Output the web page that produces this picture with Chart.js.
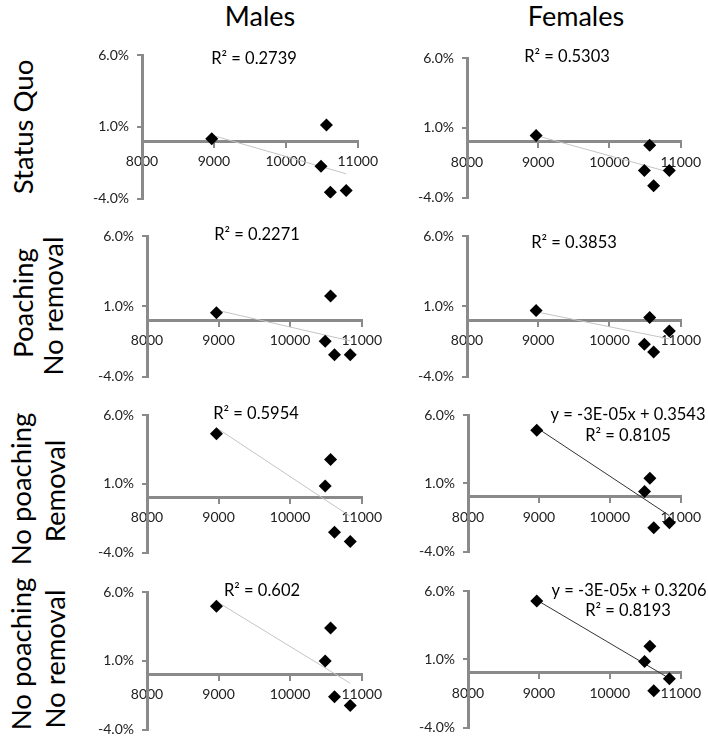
<!DOCTYPE html>
<html>
<head>
<meta charset="utf-8">
<script src="https://cdn.jsdelivr.net/npm/chart.js@4.4.1/dist/chart.umd.min.js"></script>
<style>
    body { margin: 0; background: #fff; width: 708px; height: 741px; position: relative; overflow: hidden; font-family: Lato, sans-serif; }
    canvas { position: absolute; }
    .hdr { position: absolute; font-size: 27px; color: #000; transform: translate(-50%, -50%); white-space: nowrap; }
    .rowlab { position: absolute; font-size: 27.5px; color: #000; white-space: nowrap; transform: translate(-50%, -50%) rotate(-90deg); }
</style>
</head>
<body>
<script>
// population size (x) shared by every panel
const populationSize = [8970, 10490, 10565, 10620, 10840];
const xTicks = [8000, 9000, 10000, 11000];
const yTicks = [-4, 1, 6];

// growth rate in %, one array per scenario / sex
const malesStatusQuo = [0.16, -1.75, 1.12, -3.55, -3.44];
const femalesStatusQuo = [0.44, -2.06, -0.25, -3.15, -2.06];
const malesPoachingNoRemoval = [0.54, -1.49, 1.74, -2.45, -2.45];
const femalesPoachingNoRemoval = [0.7, -1.7, 0.2, -2.25, -0.75];
const malesNoPoachingRemoval = [4.64, 0.84, 2.76, -2.52, -3.2];
const femalesNoPoachingRemoval = [4.89, 0.40, 1.37, -2.25, -1.89];
const malesNoPoachingNoRemoval = [4.96, 0.98, 3.39, -1.61, -2.24];
const femalesNoPoachingNoRemoval = [5.27, 0.83, 1.95, -1.30, -0.42];

const sexes = ["Males", "Females"];
const scenarios = [["Status Quo"], ["Poaching", "No removal"], ["No poaching", "Removal"], ["No poaching", "No removal"]];

const fitLabels = [
    ["R² = 0.2739"], ["R² = 0.5303"],
    ["R² = 0.2271"], ["R² = 0.3853"],
    ["R² = 0.5954"], ["y = -3E-05x + 0.3543", "R² = 0.8105"],
    ["R² = 0.602"], ["y = -3E-05x + 0.3206", "R² = 0.8193"]
];

const series = [
    malesStatusQuo, femalesStatusQuo,
    malesPoachingNoRemoval, femalesPoachingNoRemoval,
    malesNoPoachingRemoval, femalesNoPoachingRemoval,
    malesNoPoachingNoRemoval, femalesNoPoachingNoRemoval
];

// layout: plot area [left, top, right, bottom] in page pixels
const boxes = [
    [142, 55, 361, 203], [467, 58, 683, 202],
    [147, 236, 365, 381], [467, 236, 683, 381],
    [147, 415, 365, 557], [468, 415, 683, 556],
    [147, 592, 365, 734], [468, 591, 682, 732]
];
// label centres relative to plot area top-left
const notePos = [
    [[112, 4]], [[100, -1]],
    [[110, -1]], [[107, 7]],
    [[109, -1]], [[160, 0], [160, 21]],
    [[115, -1]], [[161, 0], [160, 20]]
];
const headerPos = [[260, 15], [576, 15]];
const rowLabelPos = [[[22, 127]], [[22, 303], [52, 306]], [[20, 489], [54, 491]], [[20, 654], [54, 659]]];

const axisGray = "#8a8a8a";

sexes.forEach((s, i) => {
    const d = document.createElement("div");
    d.className = "hdr";
    d.textContent = s;
    d.style.left = headerPos[i][0] + "px";
    d.style.top = headerPos[i][1] + "px";
    document.body.appendChild(d);
});

scenarios.forEach((lines, r) => {
    lines.forEach((t, j) => {
        const d = document.createElement("div");
        d.className = "rowlab";
        d.textContent = t;
        d.style.left = rowLabelPos[r][j][0] + "px";
        d.style.top = rowLabelPos[r][j][1] + "px";
        document.body.appendChild(d);
    });
});

const notePlugin = {
    id: "notes",
    afterDatasetsDraw(chart, args, opts) {
        const ctx = chart.ctx;
        const area = chart.chartArea;
        ctx.save();
        ctx.font = "16.5px Lato";
        ctx.fillStyle = "#000";
        ctx.textAlign = "center";
        ctx.textBaseline = "middle";
        opts.lines.forEach((t, i) => {
            ctx.fillText(t, area.left + opts.pos[i][0], area.top + opts.pos[i][1]);
        });
        ctx.restore();
    }
};

function fitLine(xs, ys) {
    const n = xs.length;
    const mx = xs.reduce((a, b) => a + b) / n;
    const my = ys.reduce((a, b) => a + b) / n;
    let sxy = 0, sxx = 0;
    xs.forEach((x, i) => {
        sxy += (x - mx) * (ys[i] - my);
        sxx += (x - mx) * (x - mx);
    });
    const b = sxy / sxx;
    const a = my - b * mx;
    const x0 = Math.min(...xs), x1 = Math.max(...xs);
    return [{ x: x0, y: a + b * x0 }, { x: x1, y: a + b * x1 }];
}

series.forEach((ys, k) => {
    const [l, t, r, b] = boxes[k];
    const yAxisW = 80, padT = 20, padB = 12;
    const padR = 708 - r < 30 ? 708 - r : 24;
    const canvas = document.createElement("canvas");
    const cl = l - yAxisW, ct = t - padT;
    canvas.width = r + padR - cl;
    canvas.height = b + padB - ct;
    canvas.style.left = cl + "px";
    canvas.style.top = ct + "px";
    document.body.appendChild(canvas);

    const pts = populationSize.map((x, i) => ({ x: x, y: ys[i] }));
    const dark = fitLabels[k].length > 1;

    new Chart(canvas, {
        type: "scatter",
        data: {
            datasets: [
                {
                    data: pts,
                    pointStyle: "rectRot",
                    pointRadius: 6.5,
                    backgroundColor: "#000",
                    borderColor: "#000",
                    borderWidth: 0,
                    order: 1
                }, {
                    data: fitLine(populationSize, ys),
                    showLine: true,
                    pointRadius: 0,
                    borderColor: dark ? "#333" : "#c4c4c4",
                    borderWidth: 1,
                    order: 2
                }]
        },
        options: {
            responsive: false,
            animation: false,
            layout: { padding: { left: 0, right: padR, top: padT, bottom: padB } },
            plugins: {
                legend: { display: false },
                tooltip: { enabled: false },
                notes: { lines: fitLabels[k], pos: notePos[k] }
            },
            scales: {
                x: {
                    type: "linear",
                    position: { y: 0 },
                    min: 8000,
                    max: 11000,
                    afterBuildTicks: s => { s.ticks = xTicks.map(v => ({ value: v })); },
                    grid: { drawOnChartArea: false, tickLength: 5, color: axisGray, lineWidth: 2 },
                    border: { color: axisGray, width: 3 },
                    ticks: { color: "#222", font: { family: "Lato", size: 14 }, padding: 7, maxRotation: 0, autoSkip: false, callback: v => String(v) }
                },
                y: {
                    min: -4,
                    max: 6,
                    afterBuildTicks: s => { s.ticks = yTicks.map(v => ({ value: v })); },
                    afterFit: s => { s.width = yAxisW; },
                    grid: { drawOnChartArea: false, tickLength: 5, color: axisGray, lineWidth: 2 },
                    border: { color: axisGray, width: 3 },
                    ticks: { color: "#222", font: { family: "Lato", size: 14 }, padding: 8, callback: v => v.toFixed(1) + "%" }
                }
            }
        },
        plugins: [notePlugin]
    });
});
</script>
</body>
</html>
